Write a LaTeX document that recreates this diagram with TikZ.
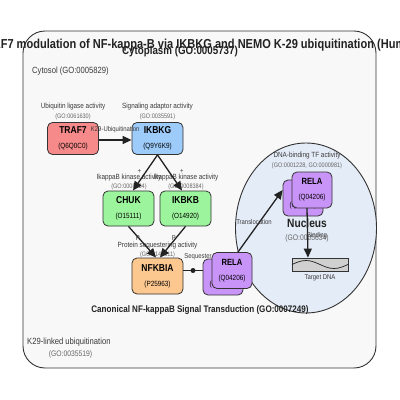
\documentclass[tikz,border=0pt]{standalone}
\usepackage{fontspec}
\setmainfont{Liberation Sans}[FakeStretch=0.85]
\usetikzlibrary{arrows.meta}
\definecolor{edgec}{HTML}{222222}
\definecolor{bordc}{HTML}{333333}
\definecolor{labc}{HTML}{3A3A3A}
\definecolor{goc}{HTML}{666666}
\definecolor{cytofill}{HTML}{F8F8F8}
\definecolor{nucfill}{HTML}{E4ECF7}
\definecolor{trafc}{HTML}{F68A8A}
\definecolor{ikbkgc}{HTML}{9DCBFA}
\definecolor{kinc}{HTML}{9CF59C}
\definecolor{nfkc}{HTML}{FDC890}
\definecolor{relac}{HTML}{C994F8}
\definecolor{dnac}{HTML}{D0D0D0}
\tikzset{
  gene/.style={draw=bordc, line width=0.8pt, rounded corners=5pt, inner sep=0pt, align=center, minimum width=51pt, minimum height=32pt},
  relabox/.style={gene, fill=relac, minimum width=40pt, minimum height=36pt},
  actlab/.style={text=labc, font=\fontsize{7.5}{8}\selectfont, inner sep=0pt},
  golab/.style={text=goc, font=\fontsize{6.5}{7}\selectfont, inner sep=0pt},
  edgelab/.style={text=labc, font=\fontsize{7}{8}\selectfont, inner sep=0pt},
  act/.style={draw=edgec, line width=1.3pt, -{Triangle[length=9pt,width=8pt]}},
}
\newcommand{\gname}[3]{{\fontsize{#3}{#3}\selectfont\bfseries #1}\\[3pt]{\fontsize{7.5}{8}\selectfont #2}}
\begin{document}
\begin{tikzpicture}[x=1pt,y=-1pt]
\useasboundingbox (0,0) rectangle (400,400);
% cytoplasm
\draw[draw=bordc, line width=0.9pt, fill=cytofill, rounded corners=22pt] (23,31) rectangle (376,368);
\node[font=\fontsize{13}{13}\selectfont\bfseries, text=edgec, inner sep=0pt] (title) at (200,45) {TRAF7 modulation of NF-kappa-B via IKBKG and NEMO K-29 ubiquitination (Human)};
\node[font=\fontsize{11.5}{12}\selectfont\bfseries, text=edgec, inner sep=0pt] (cytoplasm) at (180,52) {Cytoplasm (GO:0005737)};
\node[font=\fontsize{9}{10}\selectfont, text=labc, inner sep=0pt, anchor=west] (cytosol) at (32,71) {Cytosol (GO:0005829)};
% nucleus
\draw[draw=bordc, line width=0.9pt, fill=nucfill] (306,228) ellipse [x radius=70.5, y radius=85];
\node[font=\fontsize{12}{12}\selectfont\bfseries, text=edgec, inner sep=0pt] (nuclab) at (307,223) {Nucleus};
\node[font=\fontsize{8}{9}\selectfont, text=goc, inner sep=0pt] (nucgo) at (307,238) {(GO:0005634)};
% genes
\node[gene, fill=trafc] (traf7) at (73,138.5) {\gname{TRAF7}{(Q6Q0C0)}{10}};
\node[gene, fill=ikbkgc] (ikbkg) at (157.5,138.5) {\gname{IKBKG}{(Q9Y6K9)}{10}};
\node[gene, fill=kinc, minimum height=35pt] (chuk) at (128.5,208.5) {\gname{CHUK}{(O15111)}{10}};
\node[gene, fill=kinc, minimum height=35pt] (ikbkb) at (185.5,208.5) {\gname{IKBKB}{(O14920)}{10}};
\node[gene, fill=nfkc, minimum height=36pt] (nfkbia) at (157.5,276) {\gname{NFKBIA}{(P25963)}{10}};
% RELA cytosol stack
\node[relabox] (relacb) at (223,277) {\gname{RELA}{(Q04206)}{9}};
\node[relabox] (relac) at (232,270.5) {\gname{RELA}{(Q04206)}{9}};
% RELA nucleus stack
\node[relabox] (relanb) at (303,198) {\gname{RELA}{(Q04206)}{9}};
\node[relabox] (relan) at (312,190) {\gname{RELA}{(Q04206)}{9}};
% target DNA
\node[draw=bordc, line width=0.8pt, fill=dnac, minimum width=56pt, minimum height=13pt, inner sep=0pt] (dna) at (320,264.5) {};
\draw[edgec, line width=0.7pt] (292,264.5) sin (306,260.5) cos (320,264.5) sin (334,268.5) cos (348,264.5);
\node[edgelab] (dnalab) at (320,277.5) {Target DNA};
% activity labels
\node[actlab] (l1) at (73,107) {Ubiquitin ligase activity};
\node[golab] (g1) at (73,116.5) {(GO:0061630)};
\node[actlab] (l2) at (157.5,107) {Signaling adaptor activity};
\node[golab] (g2) at (157.5,116.5) {(GO:0035591)};
\node[actlab] (l3) at (129,178) {IkappaB kinase activity};
\node[golab] (g3) at (129,186.5) {(GO:0008384)};
\node[actlab] (l4) at (186,178) {IkappaB kinase activity};
\node[golab] (g4) at (186,186.5) {(GO:0008384)};
\node[actlab] (l5) at (157.5,246) {Protein sequestering activity};
\node[golab] (g5) at (157.5,255) {(GO:0140311)};
\node[actlab] (l6) at (307,156) {DNA-binding TF activity};
\node[golab] (g6) at (307,166) {(GO:0001228, GO:0000981)};
% edges
\draw[act] (traf7.east |- 0,140) -- (ikbkg.west |- 0,140) node[edgelab, pos=0.5, yshift=10pt] {K29-Ubiquitination};
\draw[act] (ikbkg.south) -- (133,190.5) node[edgelab, pos=0.5, xshift=-6pt, yshift=1pt] {+};
\draw[act] (ikbkg.south) -- (182,190.5) node[edgelab, pos=0.5, xshift=12pt, yshift=1pt] {+};
\draw[act] (chuk.south) -- (156,257.5) node[edgelab, pos=0.38, xshift=-1pt] {P};
\draw[act] (ikbkb.south) -- (160,257.5) node[edgelab, pos=0.38, xshift=-2pt] {P};
\draw[draw=edgec, line width=1.3pt] (nfkbia.east |- relac.center) -- (relacb.west |- relac.center) node[pos=0.5, circle, fill=edgec, inner sep=0pt, minimum size=5pt] (dot) {};
\node[edgelab] (seqlab) at (198,257) {Sequester};
\draw[act] (238,252) -- (relanb.west |- 0,190);
\node[edgelab] (translab) at (254,222) {Translocation};
\draw[act] (307,208) -- (dna.north -| 308,0);
\node[edgelab] (bindlab) at (317,236) {Binding};
% bottom texts
\node[font=\fontsize{9.5}{10}\selectfont\bfseries, text=edgec, inner sep=0pt] (canon) at (200,310) {Canonical NF-kappaB Signal Transduction (GO:0007249)};
\node[font=\fontsize{9}{10}\selectfont, text=labc, inner sep=0pt, anchor=west] (k29) at (27,342) {K29-linked ubiquitination};
\node[font=\fontsize{8}{9}\selectfont, text=goc, inner sep=0pt] (k29go) at (70.5,354) {(GO:0035519)};
\end{tikzpicture}
\end{document}
